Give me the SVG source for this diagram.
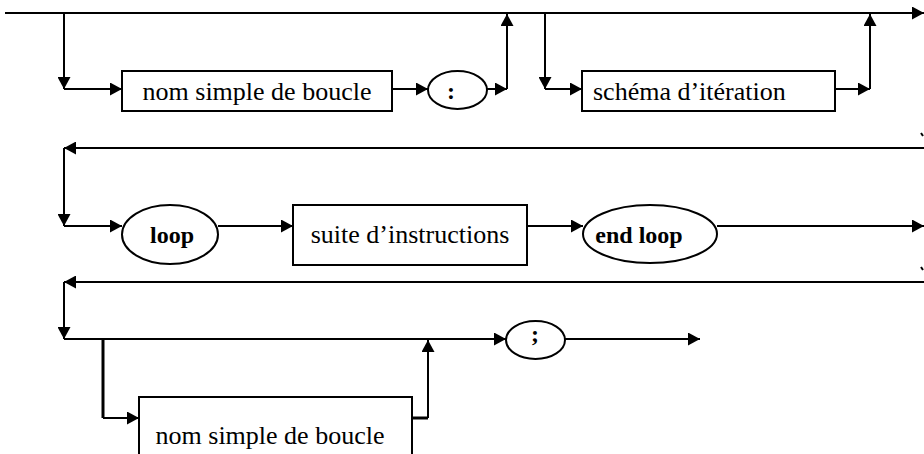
<svg xmlns="http://www.w3.org/2000/svg" width="924" height="454" viewBox="0 0 924 454">
  <style>
    .box { fill: #ffffff; stroke: #000000; stroke-width: 2; }
    .term { fill: #ffffff; stroke: #000000; stroke-width: 2; }
    .lbl { font-family: 'Liberation Serif', 'DejaVu Serif', serif; font-size: 26px; fill: #000000; }
    .kw { font-family: 'Liberation Serif', 'DejaVu Serif', serif; font-size: 24px; font-weight: bold; fill: #000000; text-anchor: middle; }
    .wire { fill: none; stroke: #000000; stroke-width: 2; }
    .thick { stroke-width: 3; }
    .arr { marker-end: url(#head); }
  </style>
  <defs>
    <marker id="head" markerUnits="userSpaceOnUse" markerWidth="13" markerHeight="13" refX="12" refY="6.5" orient="auto" viewBox="0 0 13 13">
      <path d="M0,0 L12,6.5 L0,13 Z" fill="#000000"/>
    </marker>
  </defs>

  <rect width="924" height="454" fill="#ffffff"/>

  <!-- connectors -->
  <g id="connectors">
    <!-- row 1: optional loop name, optional iteration scheme -->
    <path class="wire arr" d="M5,13 H924"/>
    <path class="wire arr" d="M64,13 V89"/>
    <path class="wire arr" d="M64,89 H122"/>
    <path class="wire arr" d="M392,89 H428"/>
    <path class="wire arr" d="M487,89 H507"/>
    <path class="wire arr" d="M507,89 V14"/>
    <path class="wire arr" d="M545,13 V89"/>
    <path class="wire arr" d="M545,89 H582"/>
    <path class="wire arr" d="M835,89 H870"/>
    <path class="wire arr" d="M870,89 V14"/>
    <path class="wire" d="M921,133 L923,136"/>

    <!-- row 2: loop ... end loop -->
    <path class="wire arr" d="M924,148 H64"/>
    <path class="wire arr" d="M64,148 V226"/>
    <path class="wire arr" d="M64,226 H122"/>
    <path class="wire arr" d="M218,226 H293"/>
    <path class="wire arr" d="M527,226 H583"/>
    <path class="wire arr" d="M717,226 H924"/>
    <path class="wire" d="M921,267 L923,270"/>

    <!-- row 3: optional closing loop name, then ; -->
    <path class="wire arr" d="M924,282 H64"/>
    <path class="wire arr" d="M64,282 V339"/>
    <path class="wire arr" d="M64,339 H506"/>
    <path class="wire thick" d="M103,339 V418"/>
    <path class="wire arr" d="M103,418 H139"/>
    <path class="wire thick" d="M412,418 H428"/>
    <path class="wire arr" d="M428,418 V340"/>
    <path class="wire arr" d="M565,339 H700"/>
  </g>

  <g id="loop-name">
    <rect class="box" x="122" y="71" width="270" height="40"/>
    <text class="lbl" x="257" y="100" text-anchor="middle" font-family="Liberation Serif">nom simple de boucle</text>
  </g>

  <g id="colon">
    <ellipse class="term" cx="457.5" cy="90" rx="29.5" ry="19"/>
    <text class="kw" x="451" y="99">:</text>
  </g>

  <g id="iteration-scheme">
    <rect class="box" x="582" y="71" width="253" height="40"/>
    <text class="lbl" x="593" y="100">schéma d’itération</text>
  </g>

  <g id="kw-loop">
    <ellipse class="term" cx="170" cy="234.5" rx="48" ry="29.5"/>
    <text class="kw" x="172" y="243">loop</text>
  </g>

  <g id="statements">
    <rect class="box" x="293" y="205" width="234" height="60"/>
    <text class="lbl" x="410" y="243" text-anchor="middle">suite d’instructions</text>
  </g>

  <g id="kw-end-loop">
    <ellipse class="term" cx="650" cy="234" rx="67" ry="29"/>
    <text class="kw" x="639" y="243">end loop</text>
  </g>

  <g id="closing-loop-name">
    <rect class="box" x="139" y="397" width="273" height="70"/>
    <text class="lbl" x="270" y="444" text-anchor="middle">nom simple de boucle</text>
  </g>

  <g id="semicolon">
    <ellipse class="term" cx="535.5" cy="340" rx="29.5" ry="19"/>
    <text class="kw" x="535" y="342">;</text>
  </g>
</svg>
